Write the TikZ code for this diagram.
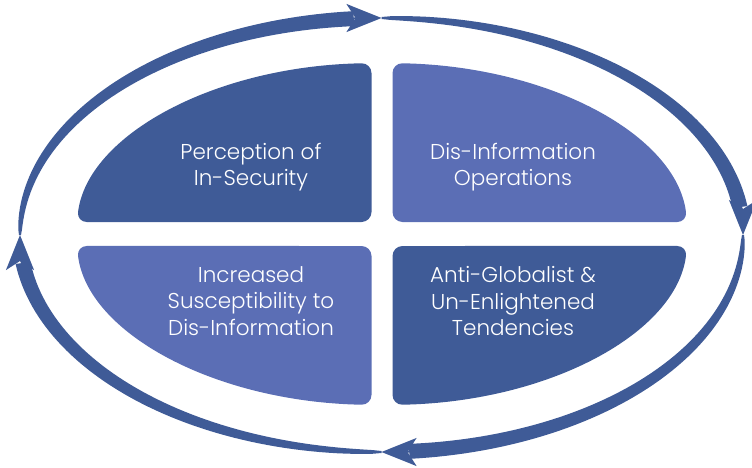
\documentclass[tikz,border=0pt]{standalone}
\usepackage{fontspec}
\setmainfont{Poppins}[UprightFont=* Light]
\usetikzlibrary{arrows.meta}
\definecolor{darkblue}{HTML}{3F5B97}
\definecolor{lightblue}{HTML}{5B6EB5}
\tikzset{
  quad/.style={rounded corners=10pt},
  caption/.style={text=white, font=\fontsize{21.5}{26.5}\selectfont, align=center},
}
\begin{document}
\begin{tikzpicture}[x=1pt,y=1pt]
  \useasboundingbox (0,0) rectangle (752,467);
  \fill[darkblue, quad] (371.5,245) -- (371.5,403.9)
    arc[start angle=91.97, end angle=175.98, x radius=306, y radius=171] -- cycle;
  \fill[lightblue, quad] (392.5,245) -- (392.5,403.9)
    arc[start angle=88.03, end angle=4.02, x radius=306, y radius=171] -- cycle;
  \fill[lightblue, quad] (371.5,221) -- (371.5,62.1)
    arc[start angle=268.03, end angle=184.02, x radius=306, y radius=171] -- cycle;
  \fill[darkblue, quad] (392.5,221) -- (392.5,62.1)
    arc[start angle=271.97, end angle=355.98, x radius=306, y radius=171] -- cycle;
  \foreach \st/\en/\gap in {180/90/4.4, 90/0/7.4, 0/-90/4.4, -90/-180/7.4}{
    \pgfmathsetmacro\md{\en+\gap}
    \pgfmathsetmacro\bk{\en+2*\gap}
    \fill[darkblue] plot[domain=\st:\md, samples=60, variable=\t]
        ({381.5+(361.5+(1+6.5*sqrt((\st-\t)/(\st-\md))))*cos(\t)}, {232+(217+(1+6.5*sqrt((\st-\t)/(\st-\md))))*sin(\t)})
      -- plot[domain=\md:\st, samples=60, variable=\t]
        ({381.5+(361.5-(1+6.5*sqrt((\st-\t)/(\st-\md))))*cos(\t)}, {232+(217-(1+6.5*sqrt((\st-\t)/(\st-\md))))*sin(\t)})
      -- cycle;
    \draw[darkblue, line width=2pt, -{Stealth[length=35pt, width=28pt, inset=9pt]}]
      ({381.5+361.5*cos(\bk)}, {232+217*sin(\bk)})
      arc[start angle=\bk, end angle=\en, x radius=361.5, y radius=217];
  }
  \node[caption] (insecurity) at (251,300) {Perception of\\In-Security};
  \node[caption] (operations) at (513,300) {Dis-Information\\Operations};
  \node[caption] (susceptibility) at (251,166) {Increased\\Susceptibility to\\Dis-Information};
  \node[caption] (tendencies) at (513,166) {Anti-Globalist \&\\Un-Enlightened\\Tendencies};
\end{tikzpicture}
\end{document}
